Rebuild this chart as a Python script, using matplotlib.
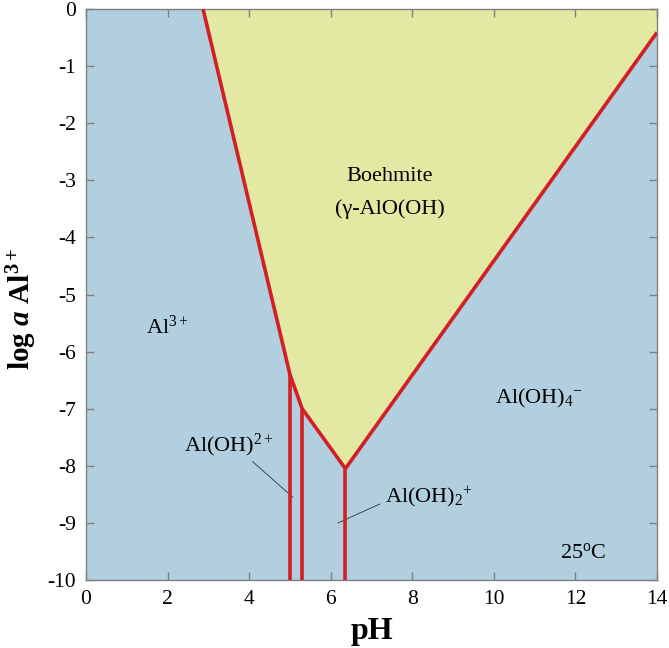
import matplotlib
matplotlib.use("Agg")
import matplotlib.pyplot as plt

plt.rcParams["font.family"] = ["Liberation Serif", "DejaVu Serif"]
plt.rcParams["mathtext.fontset"] = "custom"
plt.rcParams["mathtext.rm"] = "Liberation Serif"
plt.rcParams["mathtext.bf"] = "Liberation Serif:bold"
plt.rcParams["mathtext.it"] = "Liberation Serif:italic:bold"

# stability boundaries (pH, log a Al3+)
boehmite_ph = [2.87, 5.00, 5.30, 6.36, 14.0, 14.0]
boehmite_loga = [0.0, -6.40, -7.00, -8.05, -0.41, 0.0]
edge_ph = [2.87, 5.00, 5.30, 6.36, 14.0]
edge_loga = [0.0, -6.40, -7.00, -8.05, -0.41]
vert_ph = [5.00, 5.30, 6.36]
vert_top = [-6.40, -7.00, -8.05]

blue = "#b1cfdf"
yellow = "#e3e8a3"
red = "#d21f26"

fig = plt.figure(figsize=(6.69, 6.48), dpi=100)
ax = fig.add_axes([86 / 669, 1 - 580 / 648, 571 / 669, 571 / 648])
ax.set_facecolor(blue)
ax.set_xlim(0, 14)
ax.set_ylim(-10, 0)

ax.fill(boehmite_ph, boehmite_loga, color=yellow, lw=0, zorder=1)
ax.plot(edge_ph, edge_loga, color=red, lw=2.6, zorder=3, solid_capstyle="butt")
for x, top in zip(vert_ph, vert_top):
    ax.plot([x, x], [-10, top], color=red, lw=2.6, zorder=3, solid_capstyle="butt")

# labels
fs = 16
ax.text(7.45, -2.94, "Boehmite", fontsize=fs, ha="center", va="center")
ax.text(7.45, -3.50, "(γ-AlO(OH)", fontsize=fs, ha="center", va="center")
ax.text(2.0, -5.57, r"Al$^{3+}$", fontsize=fs, ha="center", va="center")
ax.text(11.1, -6.82, "Al(OH)$_4$$^{\u2212}$", fontsize=fs, ha="center", va="center")
ax.text(3.5, -7.65, r"Al(OH)$^{2+}$", fontsize=fs, ha="center", va="center")
ax.text(8.4, -8.56, r"Al(OH)$_2$$^{+}$", fontsize=fs, ha="center", va="center")
ax.text(12.2, -9.53, r"25$^{\rm o}$C", fontsize=fs, ha="center", va="center")

# leader lines
ax.plot([4.09, 5.07], [-7.93, -8.55], color="#333333", lw=0.6, zorder=2)
ax.plot([6.18, 7.20], [-9.00, -8.67], color="#333333", lw=0.6, zorder=2)

ax.set_xticks([0, 2, 4, 6, 8, 10, 12, 14])
ax.set_yticks(range(-10, 1))
ax.set_yticklabels([str(v) for v in range(-10, 1)])
ax.tick_params(direction="in", length=6, width=1, color="#808080",
               top=True, right=True, labelsize=15.5, pad=7)
for s in ax.spines.values():
    s.set_color("#808080")
    s.set_linewidth(1)

ax.set_xlabel("pH", fontsize=23, fontweight="bold", labelpad=6)
ax.set_ylabel(r"$\mathbf{log}\ \mathit{a}\ \mathbf{Al}^{\mathbf{3+}}$", fontsize=21)
ax.yaxis.set_label_coords(-0.083, 0.475)

fig.savefig("out.png", dpi=100)
